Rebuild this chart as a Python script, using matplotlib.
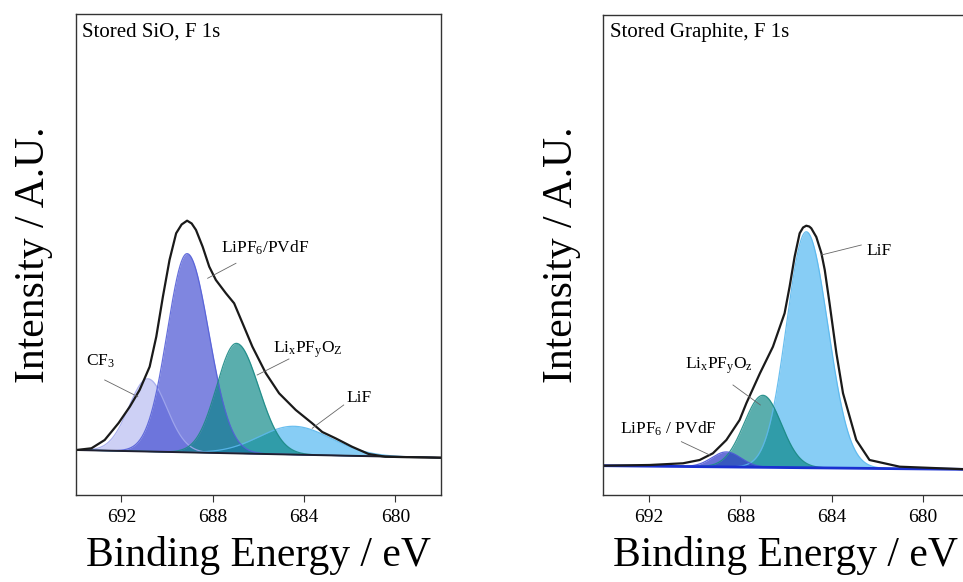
import numpy as np
import matplotlib
matplotlib.use("Agg")
import matplotlib.pyplot as plt

plt.rcParams['font.family'] = ['Liberation Serif', 'DejaVu Serif']
plt.rcParams['mathtext.fontset'] = 'custom'
plt.rcParams['mathtext.rm'] = 'Liberation Serif'
plt.rcParams['mathtext.it'] = 'Liberation Serif:italic'

# ---- Stored SiO, F 1s ----
sio_env_E = [694.04, 693.31, 692.73, 692.37, 692.12, 691.63, 691.20, 690.76, 690.47,
             690.18, 689.89, 689.60, 689.36, 689.12, 688.92, 688.73, 688.44, 688.15,
             687.86, 687.42, 687.06, 686.69, 686.26, 685.67, 685.09, 684.36, 683.64,
             683.20, 682.62, 681.90, 681.17, 680.44, 679.5, 678.0]
sio_env_I = [44.8, 46.7, 55.0, 65.0, 72.0, 88.3, 105.0, 128.3, 158.3,
             198.3, 235.0, 261.7, 270.5, 274.3, 271.5, 265.0, 248.3, 228.3,
             215.0, 201.7, 191.7, 171.7, 148.3, 121.7, 101.7, 85.0, 71.7,
             63.0, 56.7, 48.3, 41.0, 38.3, 37.8, 37.3]
sio_base_E = [694.0, 678.0]
sio_base_I = [45.0, 37.3]
sio_names = ['CF3', 'LiF', 'LiPF6/PVdF', 'LixPFyOz']
sio_center = [690.84, 684.44, 689.12, 686.96]
sio_height = [72.7, 28.3, 198.7, 110.0]
sio_hw_hi = [0.98, 1.80, 1.02, 1.02]
sio_hw_lo = [0.98, 1.90, 1.12, 1.15]

# ---- Stored Graphite, F 1s ----
gr_env_E = [694.01, 691.97, 690.51, 689.78, 689.20, 688.61, 688.03, 687.73, 687.14,
            686.57, 686.06, 685.84, 685.62, 685.40, 685.25, 685.11, 684.98, 684.89,
            684.67, 684.45, 684.30, 684.09, 683.79, 683.50, 682.92, 682.34, 681.02, 678.0]
gr_env_I = [29.3, 30.0, 31.7, 35.0, 41.7, 55.0, 75.0, 92.0, 121.7,
            148.3, 181.7, 208.3, 238.3, 261.7, 267.5, 269.3, 268.5, 266.7,
            258.0, 242.0, 225.0, 191.7, 141.7, 101.7, 55.0, 35.0, 28.3, 25.6]
gr_base_E = [694.0, 678.0]
gr_base_I = [29.3, 25.6]
gr_names = ['LiF', 'LixPFyOz', 'LiPF6 / PVdF']
gr_center = [685.11, 687.01, 688.61]
gr_height = [236.0, 72.0, 15.0]
gr_hw_hi = [1.02, 0.97, 0.75]
gr_hw_lo = [1.11, 0.95, 0.75]

ticks = [692, 688, 684, 680]

colors = {
    'CF3': ('#b2b7f0', '#a3a9ee', 0.65),
    'LiPF6/PVdF': ('#3a45d0', '#5560d8', 0.65),
    'LiPF6 / PVdF': ('#2a35c8', '#4a55d6', 0.70),
    'LixPFyOz': ('#028381', '#1b8a86', 0.65),
    'LiF': ('#47b2f0', '#5ab8ee', 0.65),
}


def peak(E, c, h, hw_hi, hw_lo):
    hw = np.where(E > c, hw_hi, hw_lo)
    return h * np.exp(-np.log(2) * ((E - c) / hw) ** 2)


E = np.linspace(694, 678, 800)

fig = plt.figure(figsize=(9.63, 5.82), dpi=100)
ax1 = fig.add_axes([0.0786, 0.1495, 0.3793, 0.826])
ax2 = fig.add_axes([0.6265, 0.1495, 0.3793, 0.8247])


def draw(ax, names, center, height, hw_hi, hw_lo, base_E, base_I, env_E, env_I, base_color, base_lw):
    base = np.interp(E, base_E[::-1], base_I[::-1])
    for n, c, h, a, b in zip(names, center, height, hw_hi, hw_lo):
        fc, ec, al = colors[n]
        y = base + peak(E, c, h, a, b)
        ax.fill_between(E, base, y, color=fc, alpha=al, lw=0)
        ax.plot(E, y, color=ec, lw=0.9, alpha=0.9)
    ax.plot(base_E, base_I, color=base_color, lw=base_lw)
    ax.plot(env_E, env_I, color='#1a1a1a', lw=1.6, solid_joinstyle='round')


draw(ax1, sio_names, sio_center, sio_height, sio_hw_hi, sio_hw_lo,
     sio_base_E, sio_base_I, sio_env_E, sio_env_I, '#202030', 1.4)
draw(ax2, gr_names, gr_center, gr_height, gr_hw_hi, gr_hw_lo,
     gr_base_E, gr_base_I, gr_env_E, gr_env_I, '#1a30d0', 2.0)

ax1.set_ylim(0, 480.7)
ax2.set_ylim(0, 480)

for ax, title in [(ax1, 'Stored SiO, F 1s'), (ax2, 'Stored Graphite, F 1s')]:
    ax.set_xlim(694, 678)
    ax.set_xticks(ticks)
    ax.set_xticklabels([str(t) for t in ticks])
    ax.set_yticks([])
    ax.tick_params(axis='x', direction='out', length=5, width=0.8, labelsize=14, pad=5, color='#333')
    for s in ax.spines.values():
        s.set_linewidth(1.0)
        s.set_color('#333333')
    ax.set_xlabel('Binding Energy / eV', fontsize=30)
    ax.xaxis.set_label_coords(0.5, -0.085)
    ax.set_ylabel('Intensity / A.U.', fontsize=30)
    ax.yaxis.set_label_coords(-0.062, 0.5)
    ax.text(0.017, 0.954, title, transform=ax.transAxes, fontsize=15, va='baseline', ha='left')

lead = dict(color='#666666', lw=0.6)
lab = 12.5

# SiO labels
ax1.text(687.64, 242.7, r'LiPF$_\mathrm{6}$/PVdF', fontsize=lab, va='baseline')
ax1.plot([686.98, 688.22], [231.7, 216.7], **lead)
ax1.text(685.36, 142.3, r'Li$_\mathrm{x}$PF$_\mathrm{y}$O$_\mathrm{Z}$', fontsize=lab, va='baseline')
ax1.plot([684.66, 686.05], [136.0, 120.0], **lead)
ax1.text(693.53, 129.3, r'CF$_\mathrm{3}$', fontsize=lab, va='baseline')
ax1.plot([692.73, 691.28], [115.0, 98.3], **lead)
ax1.text(682.13, 93.3, 'LiF', fontsize=lab, va='baseline')
ax1.plot([682.26, 683.64], [90.0, 66.7], **lead)

# Graphite labels
ax2.text(682.48, 240.0, 'LiF', fontsize=lab, va='baseline')
ax2.plot([682.70, 684.45], [250.0, 240.0], **lead)
ax2.text(690.44, 126.7, r'Li$_\mathrm{x}$PF$_\mathrm{y}$O$_\mathrm{z}$', fontsize=lab, va='baseline')
ax2.plot([688.32, 687.12], [110.0, 90.0], **lead)
ax2.text(693.28, 61.7, r'LiPF$_\mathrm{6}$ / PVdF', fontsize=lab, va='baseline')
ax2.plot([690.58, 689.34], [53.3, 40.0], **lead)

fig.savefig('out.png', dpi=100)
